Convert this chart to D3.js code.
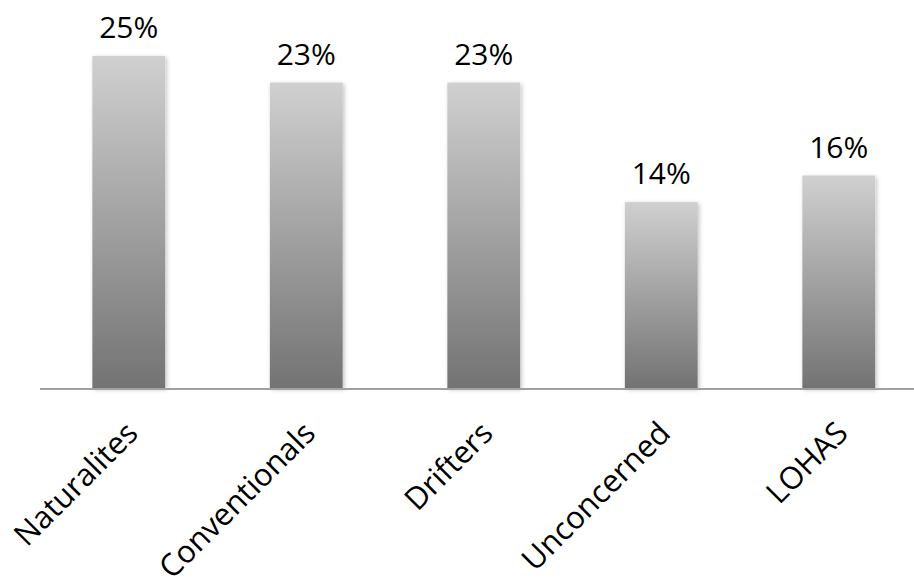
<!DOCTYPE html>
<html>
<head>
<meta charset="utf-8">
<script src="https://cdn.jsdelivr.net/npm/d3@7"></script>
<style>
  html, body { margin: 0; padding: 0; background: #fff; }
  svg { display: block; }
</style>
</head>
<body>
<div id="chart"></div>
<script>
  'use strict';

  const categories = ['Naturalites', 'Conventionals', 'Drifters', 'Unconcerned', 'LOHAS'];
  const values = [25, 23, 23, 14, 16];
  const valueLabels = ['25%', '23%', '23%', '14%', '16%'];

  const width = 914;
  const height = 579;
  const baseY = 388;
  const font = '"Open Sans", Calibri, sans-serif';

  const svg = d3.select('#chart').append('svg')
    .attr('width', width)
    .attr('height', height);

  const defs = svg.append('defs');
  const grad = defs.append('linearGradient')
    .attr('id', 'barGrad')
    .attr('x1', 0).attr('y1', 0).attr('x2', 0).attr('y2', 1);
  grad.append('stop').attr('offset', '0%').attr('stop-color', '#d0d0d0');
  grad.append('stop').attr('offset', '100%').attr('stop-color', '#737373');

  const shadow = defs.append('filter')
    .attr('id', 'barShadow')
    .attr('x', '-10%').attr('y', '-10%').attr('width', '130%').attr('height', '130%');
  shadow.append('feDropShadow')
    .attr('dx', 1.5).attr('dy', 1.5)
    .attr('stdDeviation', 2)
    .attr('flood-color', '#000')
    .attr('flood-opacity', 0.25);

  const x = d3.scaleBand()
    .domain(categories)
    .range([40, 927.5])
    .paddingInner(0.59)
    .paddingOuter(0.295);

  const y = d3.scaleLinear()
    .domain([0, 25])
    .range([baseY, 56]);

  const data = categories.map((c, i) => ({ cat: c, value: values[i], label: valueLabels[i] }));

  svg.append('g')
    .selectAll('rect')
    .data(data)
    .join('rect')
    .attr('x', (d) => x(d.cat))
    .attr('y', (d) => y(d.value))
    .attr('width', x.bandwidth())
    .attr('height', (d) => baseY - y(d.value))
    .attr('fill', 'url(#barGrad)')
    .attr('filter', 'url(#barShadow)');

  // category axis
  const axis = svg.append('g')
    .attr('transform', `translate(0,${baseY})`)
    .call(d3.axisBottom(x).tickSize(0).tickPadding(0));

  axis.select('.domain')
    .attr('d', `M40,1H${width}`)
    .attr('stroke', '#a0a0a0')
    .attr('stroke-width', 2);

  axis.selectAll('.tick text')
    .attr('font-family', font)
    .attr('font-size', 31)
    .attr('fill', '#000')
    .attr('text-anchor', 'end')
    .attr('dy', 0)
    .attr('y', 0)
    .attr('transform', 'translate(11,47) rotate(-45)');

  // value labels
  svg.append('g')
    .selectAll('text')
    .data(data)
    .join('text')
    .attr('x', (d) => x(d.cat) + x.bandwidth() / 2)
    .attr('y', (d) => y(d.value) - 18)
    .attr('text-anchor', 'middle')
    .attr('font-family', font)
    .attr('font-size', 30)
    .attr('fill', '#000')
    .text((d) => d.label);
</script>
</body>
</html>
